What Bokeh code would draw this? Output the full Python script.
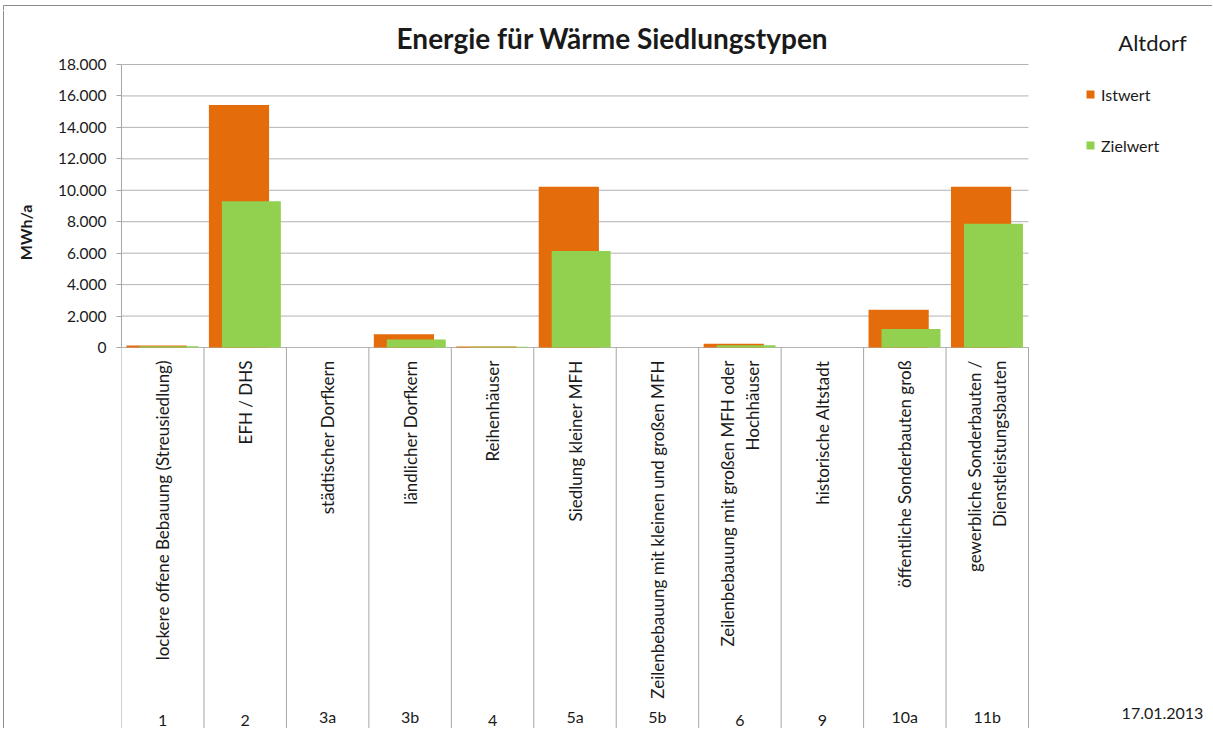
import numpy as np
from bokeh.plotting import figure
from bokeh.layouts import row, column
from bokeh.models import (Range1d, FixedTicker, CustomJSTickFormatter, Label,
                          Legend, LegendItem, ColumnDataSource, Span)
from bokeh.core.properties import value
from bokeh.embed import file_html
from bokeh.resources import INLINE

# ---------------- data ----------------
codes = ["1", "2", "3a", "3b", "4", "5a", "5b", "6", "9", "10a", "11b"]
names = [
    "lockere offene Bebauung (Streusiedlung)",
    "EFH / DHS",
    "städtischer Dorfkern",
    "ländlicher Dorfkern",
    "Reihenhäuser",
    "Siedlung kleiner MFH",
    "Zeilenbebauung mit kleinen und großen MFH",
    "Zeilenbebauung mit großen MFH oder\nHochhäuser",
    "historische Altstadt",
    "öffentliche Sonderbauten groß",
    "gewerbliche Sonderbauten /\nDienstleistungsbauten",
]
istwert = [130, 15430, 0, 850, 60, 10230, 0, 240, 0, 2400, 10230]
zielwert = [80, 9300, 0, 510, 40, 6130, 0, 140, 0, 1180, 7870]
y_ticks = list(range(0, 18001, 2000))

title = "Energie für Wärme Siedlungstypen"
place = "Altdorf"
date = "17.01.2013"
y_title = "MWh/a"

# ---------------- layout (pixels) ----------------
FONT = "Lato"
TOTAL_W, H = 1212, 728
STRIP_H = 10                # thin strip on top carrying the chart border
LEFT_W = 40                 # narrow strip holding the y-axis title
FRAME_L = 121               # x of the value axis
CAT_R = 1028                # right end of the category area
AX_TOP, AX_ZERO = 64, 347   # y of max tick and of zero
BORDER = 3                  # outer chart border inset
Y_MAX = 18000
n = len(codes)

HP = H - STRIP_H
M_W = TOTAL_W - LEFT_W
frame_w = TOTAL_W - FRAME_L
x_end = n * frame_w / (CAT_R - FRAME_L)
upp = Y_MAX / (AX_ZERO - AX_TOP)            # value units per pixel
y_start = -(H - AX_ZERO) * upp
y_end = Y_MAX + (AX_TOP - STRIP_H) * upp

ORANGE = "#E46C0A"
GREEN = "#92D050"
GRID = "#b3b3b3"
SEP = "#a6a6a6"
FRAME_C = "#8c8c8c"
TXT = "#1a1a1a"


def bare(fig):
    fig.outline_line_color = None
    fig.grid.visible = False
    fig.background_fill_color = "white"
    fig.border_fill_color = "white"


p = figure(width=M_W, height=HP, output_backend="svg", toolbar_location=None,
           x_range=Range1d(0, x_end), y_range=Range1d(y_start, y_end),
           x_axis_type=None, min_border_left=FRAME_L - LEFT_W, min_border_right=0,
           min_border_top=0, min_border_bottom=0)
bare(p)

# y axis
ax = p.yaxis[0]
ax.ticker = FixedTicker(ticks=y_ticks)
ax.bounds = (0, Y_MAX)
ax.formatter = CustomJSTickFormatter(
    code="return tick.toFixed(0).replace(/\\B(?=(\\d{3})+(?!\\d))/g, '.');")
ax.major_label_text_font = FONT
ax.major_label_text_font_size = "15.5px"
ax.major_label_text_color = TXT
ax.major_label_standoff = 10
ax.major_tick_in = 0
ax.major_tick_out = 5
ax.minor_tick_in = 0
ax.minor_tick_out = 0
ax.axis_line_color = SEP
ax.major_tick_line_color = SEP

# horizontal gridlines over the category area only
p.segment(x0=np.zeros(len(y_ticks)), y0=y_ticks, x1=np.full(len(y_ticks), n), y1=y_ticks,
          line_color=GRID, line_width=1)

# bars
centers = np.arange(n) + 0.5
src = ColumnDataSource(dict(x_ist=centers - 0.075, x_ziel=centers + 0.075,
                            ist=istwert, ziel=zielwert))
r_ist = p.vbar(x="x_ist", top="ist", bottom=0, width=0.73, source=src,
               fill_color=ORANGE, line_color=None)
r_ziel = p.vbar(x="x_ziel", top="ziel", bottom=0, width=0.715, source=src,
                fill_color=GREEN, line_color=None)

# category table separators
bounds = np.arange(n + 1)
p.segment(x0=bounds, y0=np.zeros(n + 1), x1=bounds, y1=np.full(n + 1, y_start),
          line_color=SEP, line_width=1)

# category names (rotated)
p.text(x=centers, y=np.zeros(n), text=names, angle=np.pi / 2,
       text_align="right", text_baseline="middle", y_offset=13,
       text_font=value(FONT), text_font_size="17px", text_color=TXT)
# category codes
p.text(x=centers, y=np.full(n, y_start), text=codes,
       text_align="center", text_baseline="bottom", y_offset=-3,
       text_font=value(FONT), text_font_size="16px", text_color=TXT)

# title, place, date (screen units relative to the frame's bottom-left)
p.add_layout(Label(x=612 - FRAME_L, y=H - 37, x_units="screen", y_units="screen",
                   text=title, text_align="center", text_baseline="middle",
                   text_font=FONT, text_font_size="28px", text_font_style="bold",
                   text_color=TXT))
p.add_layout(Label(x=1152 - FRAME_L, y=H - 42, x_units="screen", y_units="screen",
                   text=place, text_align="center", text_baseline="middle",
                   text_font=FONT, text_font_size="22px", text_color=TXT))
p.add_layout(Label(x=1162 - FRAME_L, y=H - 713, x_units="screen", y_units="screen",
                   text=date, text_align="center", text_baseline="middle",
                   text_font=FONT, text_font_size="16px", text_color=TXT))

legend = Legend(items=[LegendItem(label="Istwert", renderers=[r_ist]),
                       LegendItem(label="Zielwert", renderers=[r_ziel])],
                location=(1085 - FRAME_L, H - 155), margin=0, padding=0, spacing=31,
                glyph_width=10, glyph_height=10, label_height=20,
                label_standoff=6, label_text_font=FONT,
                label_text_font_size="16px", label_text_color=TXT,
                border_line_color=None, background_fill_alpha=0)
p.add_layout(legend)

# left strip with the rotated y-axis title and the left chart border
q = figure(width=LEFT_W, height=HP, output_backend="svg", toolbar_location=None,
           x_range=Range1d(0, LEFT_W), y_range=Range1d(0, HP),
           x_axis_type=None, y_axis_type=None, min_border=0)
bare(q)
q.text(x=[25], y=[H - 232], text=[y_title], angle=np.pi / 2,
       text_align="center", text_baseline="middle", text_font=value(FONT),
       text_font_size="16px", text_font_style="bold", text_color=TXT)
q.add_layout(Span(location=BORDER, dimension="height", line_color=FRAME_C, line_width=1))

# top strip with the top chart border
t = figure(width=TOTAL_W, height=STRIP_H, output_backend="svg", toolbar_location=None,
           x_range=Range1d(0, TOTAL_W), y_range=Range1d(0, STRIP_H),
           x_axis_type=None, y_axis_type=None, min_border=0)
bare(t)
t.segment(x0=[BORDER], y0=[STRIP_H - BORDER], x1=[TOTAL_W], y1=[STRIP_H - BORDER],
          line_color=FRAME_C, line_width=1)
t.segment(x0=[BORDER], y0=[0], x1=[BORDER], y1=[STRIP_H - BORDER],
          line_color=FRAME_C, line_width=1)

layout = column(t, row(q, p))
open("out.html", "w").write(file_html(layout, INLINE))
